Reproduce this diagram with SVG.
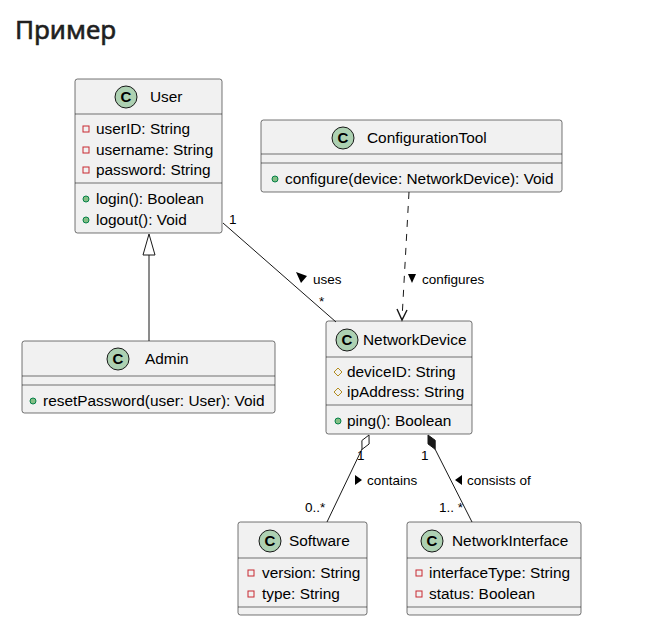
<svg xmlns="http://www.w3.org/2000/svg" width="660" height="638" viewBox="0 0 660 638">
<style>
.box{fill:#F1F1F1;stroke:#181818;stroke-width:0.6}
.div{stroke:#181818;stroke-width:0.6}
.t{font-family:"Liberation Sans",Arial,sans-serif;font-size:15.4px;fill:#000}
.l{font-family:"Liberation Sans",Arial,sans-serif;font-size:13.5px;fill:#000}
.ci{fill:#ADD1B2;stroke:#181818;stroke-width:1}
.cl{font-family:"Liberation Sans",Arial,sans-serif;font-size:15px;font-weight:bold;fill:#000}
.priv{fill:none;stroke:#C82930;stroke-width:1}
.pub{fill:#84BE84;stroke:#038048;stroke-width:1}
.prot{fill:none;stroke:#B38D22;stroke-width:1}
.ln{stroke:#181818;stroke-width:1;fill:none}
</style>
<text x="15" y="39" font-family="'Noto Sans','Open Sans',sans-serif" font-size="26" fill="#1f1f1f" stroke="#1f1f1f" stroke-width="0.6">Пример</text>

<g id="User">
<rect class="box" x="75" y="79" width="147" height="154" rx="2.5"/>
<line class="div" x1="75" y1="114" x2="222" y2="114"/>
<line class="div" x1="75" y1="183" x2="222" y2="183"/>
<circle class="ci" cx="126" cy="97" r="11"/>
<text class="cl" x="126" y="102" text-anchor="middle">C</text>
<text class="t" x="150" y="102">User</text>
<rect class="priv" x="83" y="126" width="6" height="6"/>
<text class="t" x="96" y="134">userID: String</text>
<rect class="priv" x="83" y="147" width="6" height="6"/>
<text class="t" x="96" y="155">username: String</text>
<rect class="priv" x="83" y="167" width="6" height="6"/>
<text class="t" x="96" y="175">password: String</text>
<circle class="pub" cx="86" cy="199" r="3"/>
<text class="t" x="96" y="204">login(): Boolean</text>
<circle class="pub" cx="86" cy="220" r="3"/>
<text class="t" x="96" y="225">logout(): Void</text>
</g>

<g id="ConfigurationTool">
<rect class="box" x="261" y="120" width="301" height="72" rx="2.5"/>
<line class="div" x1="261" y1="154" x2="562" y2="154"/>
<line class="div" x1="261" y1="163" x2="562" y2="163"/>
<circle class="ci" cx="343" cy="138" r="11"/>
<text class="cl" x="343" y="143" text-anchor="middle">C</text>
<text class="t" x="367" y="143">ConfigurationTool</text>
<circle class="pub" cx="275" cy="179" r="3"/>
<text class="t" x="285" y="184">configure(device: NetworkDevice): Void</text>
</g>

<g id="Admin">
<rect class="box" x="22" y="341" width="253" height="72" rx="2.5"/>
<line class="div" x1="22" y1="376" x2="275" y2="376"/>
<line class="div" x1="22" y1="385" x2="275" y2="385"/>
<circle class="ci" cx="118" cy="359" r="11"/>
<text class="cl" x="118" y="364" text-anchor="middle">C</text>
<text class="t" x="145" y="364">Admin</text>
<circle class="pub" cx="33" cy="401" r="3"/>
<text class="t" x="43" y="406">resetPassword(user: User): Void</text>
</g>

<g id="NetworkDevice">
<rect class="box" x="326" y="321" width="146" height="113" rx="2.5"/>
<line class="div" x1="326" y1="357" x2="472" y2="357"/>
<line class="div" x1="326" y1="405" x2="472" y2="405"/>
<circle class="ci" cx="347" cy="340" r="11"/>
<text class="cl" x="347" y="345" text-anchor="middle">C</text>
<text class="t" x="363" y="345">NetworkDevice</text>
<polygon class="prot" points="338,368 342,372 338,376 334,372"/>
<text class="t" x="347" y="377">deviceID: String</text>
<polygon class="prot" points="338,388 342,392 338,396 334,392"/>
<text class="t" x="347" y="397">ipAddress: String</text>
<circle class="pub" cx="338" cy="421" r="3"/>
<text class="t" x="347" y="426">ping(): Boolean</text>
</g>

<g id="Software">
<rect class="box" x="238" y="522" width="129" height="93" rx="2.5"/>
<line class="div" x1="238" y1="558" x2="367" y2="558"/>
<line class="div" x1="238" y1="607" x2="367" y2="607"/>
<circle class="ci" cx="270" cy="541" r="11"/>
<text class="cl" x="270" y="546" text-anchor="middle">C</text>
<text class="t" x="289" y="546">Software</text>
<rect class="priv" x="248" y="570" width="6" height="6"/>
<text class="t" x="262" y="578">version: String</text>
<rect class="priv" x="248" y="591" width="6" height="6"/>
<text class="t" x="262" y="599">type: String</text>
</g>

<g id="NetworkInterface">
<rect class="box" x="407" y="522" width="174" height="93" rx="2.5"/>
<line class="div" x1="407" y1="558" x2="581" y2="558"/>
<line class="div" x1="407" y1="607" x2="581" y2="607"/>
<circle class="ci" cx="432" cy="541" r="11"/>
<text class="cl" x="432" y="546" text-anchor="middle">C</text>
<text class="t" x="452" y="546">NetworkInterface</text>
<rect class="priv" x="416" y="570" width="6" height="6"/>
<text class="t" x="429" y="578">interfaceType: String</text>
<rect class="priv" x="416" y="591" width="6" height="6"/>
<text class="t" x="429" y="599">status: Boolean</text>
</g>

<g id="connectors">
<line class="ln" x1="149" y1="341" x2="149" y2="255"/>
<polygon points="149,234 143,255 155,255" fill="#FFFFFF" stroke="#181818" stroke-width="1"/>

<line class="ln" x1="223" y1="223" x2="336" y2="322"/>
<text class="l" x="229" y="224">1</text>
<text class="l" x="319" y="306">*</text>
<polygon points="296,272 307,276 301,283" fill="#000"/>
<text class="l" x="313" y="284">uses</text>

<line class="ln" x1="409" y1="192" x2="402" y2="319" stroke-dasharray="7,7"/>
<polyline points="397,309 402,320 407,310" fill="none" stroke="#181818" stroke-width="1.4"/>
<polygon points="408,274 416,274 412,283" fill="#000"/>
<text class="l" x="422" y="284">configures</text>

<line class="ln" x1="327" y1="522" x2="362" y2="449"/>
<polygon points="369,435 369.1,444 362,449.4 361.9,440.5" fill="#FFFFFF" stroke="#181818" stroke-width="1"/>
<text class="l" x="357" y="460">1</text>
<text class="l" x="305" y="512">0..*</text>
<polygon points="355,475 362,480 355,485" fill="#000"/>
<text class="l" x="367" y="485">contains</text>

<line class="ln" x1="435" y1="449" x2="472" y2="522"/>
<polygon points="428,435 435.2,440.3 435.2,449.3 428,443.9" fill="#181818" stroke="#181818" stroke-width="1"/>
<text class="l" x="421" y="460">1</text>
<text class="l" x="439" y="512">1.. *</text>
<polygon points="462,475 455,480 462,485" fill="#000"/>
<text class="l" x="467" y="485">consists of</text>
</g>
</svg>
